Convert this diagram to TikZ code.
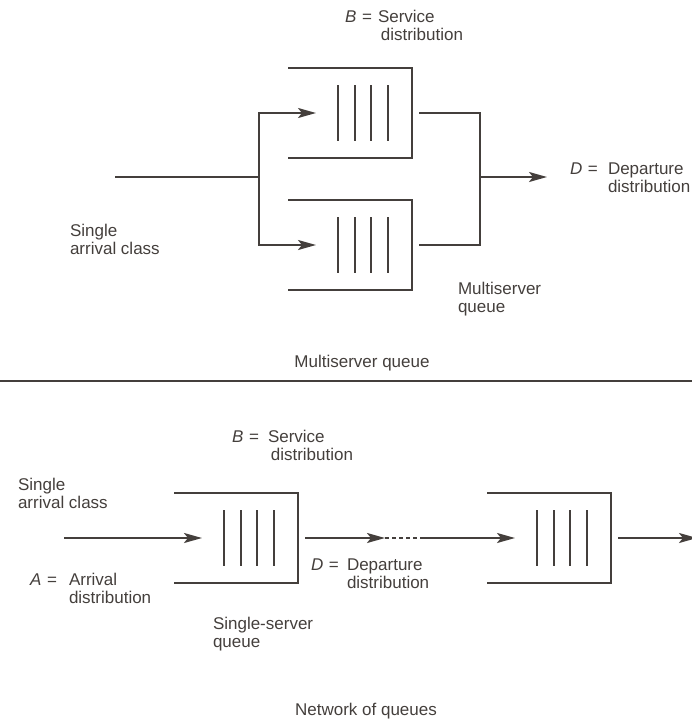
\documentclass[tikz,border=0pt]{standalone}
\usepackage{fontspec}
\setmainfont{Liberation Sans}
\usetikzlibrary{arrows.meta}
\definecolor{ink}{RGB}{68,63,60}
\newcommand{\twolines}[2]{\begin{tabular}[t]{@{}l@{}}#1\\#2\end{tabular}}
\begin{document}
\begin{tikzpicture}[x=1pt,y=-1pt, line width=2.1pt, color=ink,
  every node/.style={inner sep=0pt, outer sep=0pt, font=\fontsize{17}{18.5}\selectfont},
  lbl/.style={anchor=base west},
  caption/.style={anchor=base},
  flow/.style={-{Stealth[length=18pt,width=10pt,inset=4pt]}},
  queue/.pic={
    % open-ended buffer with four service slots
    \draw (-62,-45) -- (62,-45) -- (62,45) -- (-62,45);
    \foreach \dx in {-12,5,21,38} \draw (\dx,-28) -- (\dx,28);
    \coordinate (-in) at (-34,0);
    \coordinate (-out) at (69,0);
  }]
\useasboundingbox (0,0) rectangle (692,720);

% ---------- multiserver queue ----------
\coordinate (src) at (115,177);
\coordinate (split) at (259,177);
\pic (qa) at (350,113) {queue};
\pic (qb) at (350,245) {queue};
\coordinate (join) at (480,177);
\coordinate (dst) at (547,177);
\draw (src) -- (split);
\draw[flow] (split) |- (qa-in);
\draw[flow] (split) |- (qb-in);
\draw (qa-out) -| (join) |- (qb-out);
\draw[flow] (join) -- (dst);

\node[lbl] (bTop) at (345,22) {\textit{B}\,\,=};
\node[lbl] (bTopTxt) at (378,22) {\twolines{Service}{\,distribution}};
\node[lbl] (dTop) at (570,174) {\textit{D}\,\,=};
\node[lbl] (dTopTxt) at (608,174) {\twolines{Departure}{distribution}};
\node[lbl] (arrTop) at (70,236) {\twolines{Single}{arrival class}};
\node[lbl] (msq) at (458,294) {\twolines{Multiserver}{queue}};
\node[caption] (capTop) at (362,367) {Multiserver queue};

% separator
\coordinate (sepL) at (0,381);
\coordinate (sepR) at (692,381);
\draw (sepL) -- (sepR);

% ---------- network of queues ----------
\coordinate (in0) at (64,538);
\pic (qc) at (236,538) {queue};
\coordinate (gapL) at (385,538);
\coordinate (gapR) at (424,538);
\pic (qd) at (549,538) {queue};
\coordinate (exit) at (697,538);
\draw[flow] (in0) -- (qc-in);
\draw[flow] (qc-out) -- (gapL);
\draw[dash pattern=on 4pt off 3pt] (gapL) -- (gapR);
\draw[flow] (gapR) -- (qd-in);
\draw[flow] (qd-out) -- (exit);

\node[lbl] (arrBot) at (18,490) {\twolines{Single}{arrival class}};
\node[lbl] (bBot) at (232,442) {\textit{B}\,\,=};
\node[lbl] (bBotTxt) at (268,442) {\twolines{Service}{\,distribution}};
\node[lbl] (aBot) at (30,585) {\textit{A}\,\,=};
\node[lbl] (aBotTxt) at (69,585) {\twolines{Arrival}{distribution}};
\node[lbl] (dBot) at (311,570) {\textit{D}\,\,=};
\node[lbl] (dBotTxt) at (347,570) {\twolines{Departure}{distribution}};
\node[lbl] (ssq) at (213,629) {\twolines{Single-server}{queue}};
\node[caption] (capBot) at (366,715) {Network of queues};
\end{tikzpicture}
\end{document}
